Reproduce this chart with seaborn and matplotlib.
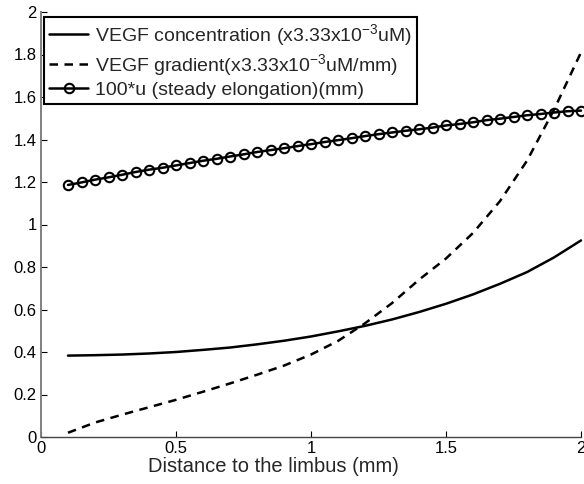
import numpy as np
import pandas as pd
import seaborn as sns
import matplotlib
matplotlib.use("Agg")
import matplotlib.pyplot as plt

# ---- data ----
x_line = [0.1, 0.2, 0.3, 0.4, 0.5, 0.6, 0.7, 0.8, 0.9, 1.0,
          1.1, 1.2, 1.3, 1.4, 1.5, 1.6, 1.7, 1.8, 1.9, 2.0]
conc = [0.383, 0.385, 0.388, 0.393, 0.400, 0.410, 0.421, 0.436, 0.453, 0.473,
        0.497, 0.523, 0.553, 0.588, 0.627, 0.671, 0.721, 0.776, 0.845, 0.925]
grad = [0.020, 0.068, 0.105, 0.140, 0.175, 0.213, 0.252, 0.293, 0.336, 0.388,
        0.452, 0.535, 0.630, 0.740, 0.840, 0.960, 1.110, 1.300, 1.540, 1.810]

x_u = [0.10, 0.15, 0.20, 0.25, 0.30, 0.35, 0.40, 0.45, 0.50, 0.55,
       0.60, 0.65, 0.70, 0.75, 0.80, 0.85, 0.90, 0.95, 1.00, 1.05,
       1.10, 1.15, 1.20, 1.25, 1.30, 1.35, 1.40, 1.45, 1.50, 1.55,
       1.60, 1.65, 1.70, 1.75, 1.80, 1.85, 1.90, 1.95, 2.00]
u100 = [1.186, 1.198, 1.211, 1.222, 1.234, 1.247, 1.258, 1.267, 1.278, 1.289,
        1.300, 1.309, 1.320, 1.330, 1.341, 1.350, 1.359, 1.369, 1.378, 1.388,
        1.397, 1.406, 1.416, 1.425, 1.433, 1.441, 1.448, 1.456, 1.466, 1.473,
        1.481, 1.491, 1.498, 1.506, 1.514, 1.520, 1.527, 1.533, 1.536]

labels = [r"VEGF concentration (x3.33x10$^{-3}$uM)",
          r"VEGF gradient(x3.33x10$^{-3}$uM/mm)",
          "100*u (steady elongation)(mm)"]
x_ticks = [0, 0.5, 1, 1.5, 2]
x_tick_labels = ["0", "0.5", "1", "1.5", "2"]
y_ticks = [0, 0.2, 0.4, 0.6, 0.8, 1, 1.2, 1.4, 1.6, 1.8, 2]
y_tick_labels = ["0", "0.2", "0.4", "0.6", "0.8", "1", "1.2", "1.4", "1.6", "1.8", "2"]
xlabel = "Distance to the limbus (mm)"

sns.set_style("ticks")
plt.rcParams["font.family"] = ["Liberation Sans", "DejaVu Sans"]
plt.rcParams["mathtext.default"] = "regular"

fig = plt.figure(figsize=(5.84, 4.84), dpi=100)
ax = fig.add_axes([41 / 584, 47 / 484, 540 / 584, 425 / 484])

df_line = pd.DataFrame({"x": x_line, "conc": conc, "grad": grad})
df_u = pd.DataFrame({"x": x_u, "u": u100})

sns.lineplot(data=df_line, x="x", y="conc", ax=ax, color="black", lw=1.8,
             label=labels[0])
sns.lineplot(data=df_line, x="x", y="grad", ax=ax, color="black", lw=1.8,
             linestyle=(0, (3.4, 2.6)), label=labels[1])
sns.lineplot(data=df_u, x="x", y="u", ax=ax, color="black", lw=1.8,
             marker="o", markersize=6.8, markerfacecolor="none",
             markeredgecolor="black", markeredgewidth=1.5, label=labels[2])

ax.set_xlim(0, 2)
ax.set_ylim(0, 2)
ax.set_xticks(x_ticks)
ax.set_xticklabels(x_tick_labels)
ax.set_yticks(y_ticks)
ax.set_yticklabels(y_tick_labels)
ax.set_xlabel(xlabel, fontsize=14.5, labelpad=1)
ax.xaxis.set_label_coords(232 / 540, -0.048)
ax.set_ylabel("")
ax.tick_params(direction="in", length=4, width=0.8, labelsize=12, pad=3,
               colors="black")
for s in ["top", "right"]:
    ax.spines[s].set_visible(False)
ax.spines["left"].set_color("#808080")
ax.spines["left"].set_linewidth(1.4)
ax.spines["bottom"].set_color("#444444")
ax.spines["bottom"].set_linewidth(1.0)
for line in ax.get_lines():
    line.set_clip_on(False)

leg = ax.legend(loc="upper left", bbox_to_anchor=(0.006, 0.988), fontsize=14,
                frameon=True, fancybox=False, framealpha=1, edgecolor="black",
                handlelength=2.0, handletextpad=0.37, borderpad=0.25,
                labelspacing=0.2, borderaxespad=0)
leg.get_frame().set_linewidth(1.5)

fig.savefig("out.png", dpi=100)
